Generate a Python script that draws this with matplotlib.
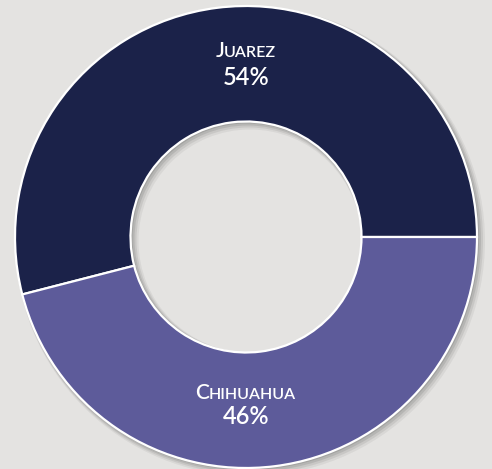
import matplotlib
matplotlib.use("Agg")
import matplotlib.pyplot as plt
from matplotlib.patches import Wedge

# city split
cities = ["Juarez", "Chihuahua"]
shares = [54, 46]
colors = ["#1b2249", "#5d5b9a"]

bg = "#e4e3e1"
W, H = 492, 469
R = 231.0          # outer radius in px
cx, cy = 246, 232  # donut centre, px from bottom-left
ring = 0.5

fig = plt.figure(figsize=(W / 100, H / 100), dpi=100, facecolor=bg)
ax = fig.add_axes([0, 0, 1, 1])
ax.set_facecolor(bg)
ax.axis("off")

# soft drop shadow under the ring
for k, a in [(4, 0.05), (3, 0.07), (2, 0.09), (1, 0.10)]:
    off = k / R
    ax.add_patch(Wedge((off, -off), 1.0 + k / R, 0, 360, width=ring + 2 * k / R,
                       facecolor="#000000", edgecolor="none", alpha=a))

ax.pie(shares, colors=colors, startangle=0, counterclock=True, radius=1.0,
       wedgeprops=dict(width=ring, edgecolor="white", linewidth=1.6))
ax.set_xlim(-cx / R, (W - cx) / R)
ax.set_ylim(-cy / R, (H - cy) / R)
ax.set_aspect("auto")

font = "Lato"
weight = "semibold"
renderer = fig.canvas.get_renderer()


def small_caps(x, y, word, big=15, small=11.5):
    # first letter full size, the rest as small capitals
    t1 = ax.text(0, y, word[0].upper(), fontsize=big, color="white",
                 family=font, weight=weight, ha="left", va="baseline")
    t2 = ax.text(0, y, word[1:].upper(), fontsize=small, color="white",
                 family=font, weight=weight, ha="left", va="baseline")
    w1 = t1.get_window_extent(renderer).width / R
    w2 = t2.get_window_extent(renderer).width / R
    left = x - (w1 + w2) / 2
    t1.set_x(left)
    t2.set_x(left + w1 - 1.0 / R)


label_y = [0.78, -0.70]
pct_y = [0.66, -0.81]
for name, val, ly, py in zip(cities, shares, label_y, pct_y):
    small_caps(0.0, ly, name)
    ax.text(0.0, py, f"{val}%", fontsize=17, color="white", family=font,
            weight=weight, ha="center", va="baseline")

fig.savefig("out.png", dpi=100, facecolor=bg)
